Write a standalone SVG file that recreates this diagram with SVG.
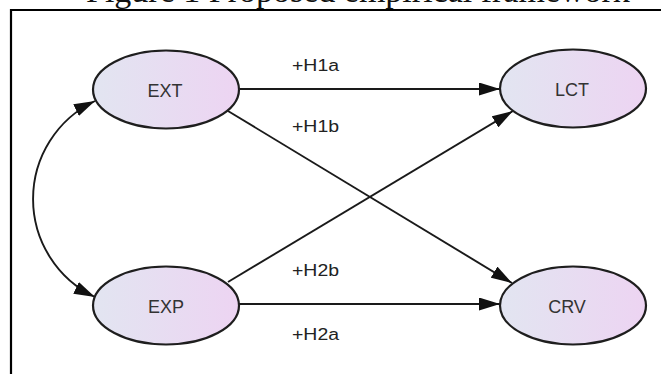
<svg xmlns="http://www.w3.org/2000/svg" width="661" height="374" viewBox="0 0 661 374">
  <defs>
    <linearGradient id="nodeFill" x1="0" y1="0" x2="1" y2="0">
      <stop offset="0" stop-color="#e2e5f1"/>
      <stop offset="1" stop-color="#edd4f2"/>
    </linearGradient>
    <marker id="arrow" viewBox="0 0 21 13" markerUnits="userSpaceOnUse" markerWidth="21" markerHeight="13" refX="21" refY="6.5" orient="auto-start-reverse">
      <path d="M0,0 L21,6.5 L0,13 z" fill="#111"/>
    </marker>
    <style>
      .node ellipse { fill: url(#nodeFill); stroke: #1e1e1e; stroke-width: 2.2; }
      .node text { font-family: "Liberation Sans", Arial, sans-serif; font-size: 18px; fill: #333; text-anchor: middle; }
      .edge { fill: none; stroke: #1a1a1a; stroke-width: 1.9; marker-end: url(#arrow); }
      .both { marker-start: url(#arrow); }
      .label { font-family: "Liberation Sans", Arial, sans-serif; font-size: 16px; fill: #222; }
      .title { font-family: "Liberation Serif", "Times New Roman", serif; font-size: 34px; fill: #111; }
    </style>
  </defs>
  <rect width="661" height="374" fill="#ffffff"/>
  <text class="title" x="86" y="1.5">Figure 1 Proposed empirical framework</text>
  <path d="M11,374 V10 H661" fill="none" stroke="#000" stroke-width="2.2"/>

  <g id="connectors">
    <path class="edge" d="M239,89 L500,89"/>
    <path class="edge" d="M228,111 L512,283"/>
    <path class="edge" d="M228,282 L513,111"/>
    <path class="edge" d="M239,304 L500,304"/>
    <path class="edge both" d="M95,101 A108.5,108.5 0 0 0 95,297"/>
    <text class="label" x="292" y="71" textLength="47" lengthAdjust="spacingAndGlyphs">+H1a</text>
    <text class="label" x="292" y="132" textLength="47" lengthAdjust="spacingAndGlyphs">+H1b</text>
    <text class="label" x="292" y="276" textLength="47" lengthAdjust="spacingAndGlyphs">+H2b</text>
    <text class="label" x="292" y="340" textLength="47" lengthAdjust="spacingAndGlyphs">+H2a</text>
  </g>

  <g id="node-EXT" class="node">
    <ellipse cx="166" cy="89.5" rx="73" ry="39"/>
    <text x="165" y="97">EXT</text>
  </g>
  <g id="node-EXP" class="node">
    <ellipse cx="166" cy="305.5" rx="73" ry="39"/>
    <text x="166" y="313">EXP</text>
  </g>
  <g id="node-LCT" class="node">
    <ellipse cx="573" cy="88.5" rx="73" ry="39"/>
    <text x="572" y="96">LCT</text>
  </g>
  <g id="node-CRV" class="node">
    <ellipse cx="573" cy="305.5" rx="73" ry="39"/>
    <text x="567" y="313">CRV</text>
  </g>
</svg>
